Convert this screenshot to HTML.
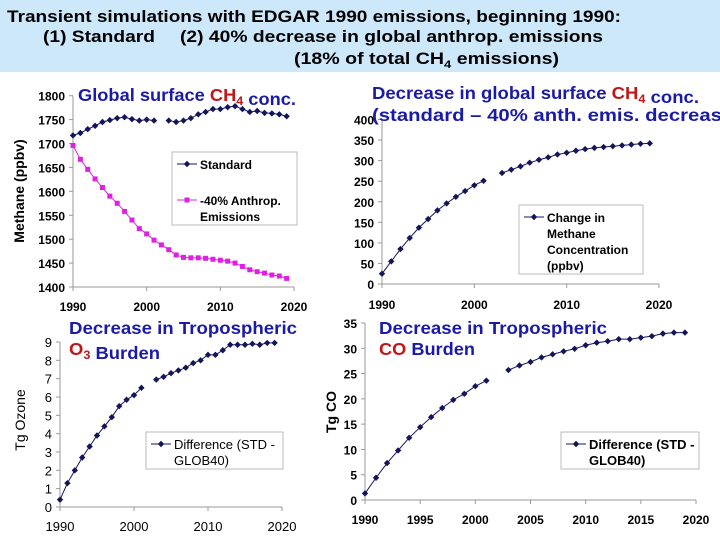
<!DOCTYPE html>
<html><head><meta charset="utf-8"><style>
html,body{margin:0;padding:0;background:#fff;width:720px;height:540px;overflow:hidden}
#hdr{position:absolute;left:0;top:0;width:720px;height:72px;background:#cde8fb}
</style></head><body>
<div id="hdr"></div>
<svg id="svg" width="720" height="540" style="position:absolute;left:0;top:0" font-family="Liberation Sans, sans-serif">
<g font-weight="bold" font-size="16.5" fill="#000">
<text x="7" y="22" textLength="614" lengthAdjust="spacingAndGlyphs">Transient simulations with EDGAR 1990 emissions, beginning 1990:</text>
<text x="43" y="42" textLength="112" lengthAdjust="spacingAndGlyphs">(1) Standard</text>
<text x="180" y="42" textLength="423" lengthAdjust="spacingAndGlyphs">(2) 40% decrease in global anthrop. emissions</text>
<text x="294" y="64" textLength="265" lengthAdjust="spacingAndGlyphs">(18% of total CH<tspan font-size="11" dy="4">4</tspan><tspan dy="-4"> emissions)</tspan></text>
</g>
</svg>
<script>
const years = [];for(let y=1990;y<=2019;y++)years.push(y);
const ch4Standard=[1717,1722,1730,1737,1745,1749,1753,1755,1751,1748,1750,1748,null,1748,1745,1748,1753,1761,1766,1772,1772,1776,1778,1772,1766,1768,1764,1763,1761,1757];
const ch4Minus40=[1696,1667,1646,1626,1608,1590,1575,1558,1540,1522,1511,1498,1488,1478,1467,1462,1461,1461,1460,1458,1456,1454,1450,1443,1436,1432,1429,1425,1423,1418];
const ch4Change=[25,55,85,112,137,158,179,196,212,226,240,251,null,270,278,286,295,302,308,315,319,324,328,331,333,335,337,339,341,342];
const o3Diff=[0.4,1.3,2.0,2.7,3.3,3.9,4.4,4.9,5.5,5.85,6.1,6.5,null,6.95,7.1,7.3,7.45,7.6,7.85,8.0,8.3,8.3,8.55,8.85,8.85,8.85,8.9,8.85,8.95,8.95];
const coDiff=[1.3,4.4,7.3,9.8,12.3,14.4,16.4,18.2,19.8,21.0,22.5,23.6,null,25.7,26.6,27.3,28.2,28.8,29.4,29.9,30.6,31.1,31.4,31.8,31.8,32.1,32.4,32.9,33.1,33.1];
const ticksCh4=[1400,1450,1500,1550,1600,1650,1700,1750,1800];
const ticksChange=[0,50,100,150,200,250,300,350,400];
const ticksO3=[0,1,2,3,4,5,6,7,8,9];
const ticksCo=[0,5,10,15,20,25,30,35];
const xTicksA=[1990,2000,2010,2020];
const xTicksB=[1990,1995,2000,2005,2010,2015,2020];

const svg=document.getElementById('svg');const NS='http://www.w3.org/2000/svg';
function mk(tag,attrs,parent){const e=document.createElementNS(NS,tag);for(const k in attrs)e.setAttribute(k,attrs[k]);(parent||svg).appendChild(e);return e;}
function chart(o){
  const g=mk('g',{});
  
  
  const sx=v=>o.x0+(v-1990)/30*(o.x1-o.x0);
  const sy=v=>o.y0-(v-o.ymin)/(o.ymax-o.ymin)*(o.y0-o.y1);
  const fw=o.bold?'bold':'normal';
  const ax=mk('g',{stroke:'#999','stroke-width':1},g);
  
  
  mk('line',{x1:o.x0,y1:o.y0,x2:o.x0,y2:o.y1},ax);
  mk('line',{x1:o.x0,y1:o.y0,x2:o.x1,y2:o.y0},ax);
  o.yt.forEach(v=>{mk('line',{x1:o.x0-4,x2:o.x0,y1:sy(v),y2:sy(v)},ax);
    const t=mk('text',{x:o.x0-8,y:sy(v)+5,'text-anchor':'end','font-size':o.fs,'font-weight':fw,fill:'#000'},g);t.textContent=v;
    
    });
  o.xt.forEach(v=>{mk('line',{x1:sx(v),x2:sx(v),y1:o.y0,y2:o.y0+4},ax);
    const t=mk('text',{x:sx(v),y:o.y0+o.xly,'text-anchor':'middle','font-size':o.fs,'font-weight':fw,fill:'#000'},g);t.textContent=v;
    
    });
  if(o.ylab){const t=mk('text',{transform:`translate(${o.ylx},${o.yly}) rotate(-90)`,'text-anchor':'middle','font-size':14,'font-weight':fw,fill:'#000'},g);t.textContent=o.ylab;
    
    }
  o.series.forEach(s=>{
    const sg=mk('g',{},g);
    
    
    let segs=[],cur=[];
    s.data.forEach((v,i)=>{if(v==null){if(cur.length)segs.push(cur);cur=[];}else cur.push([sx(years[i]),sy(v)]);});
    if(cur.length)segs.push(cur);
    segs.forEach(sgm=>mk('polyline',{points:sgm.map(p=>p.join(',')).join(' '),fill:'none',stroke:s.color,'stroke-width':1},sg));
    s.data.forEach((v,i)=>{if(v==null)return;const x=sx(years[i]),y=sy(v);
      let m;if(s.square)m=mk('rect',{x:x-2.5,y:y-2.5,width:5,height:5,fill:s.color},sg);
      else m=mk('path',{d:`M${x},${y-3.2}L${x+3.2},${y}L${x},${y+3.2}L${x-3.2},${y}Z`,fill:s.color},sg);
      
      });
  });
  const L=o.legend;const lg=mk('g',{},g);
  
  
  mk('rect',{x:L.x,y:L.y,width:L.w,height:L.h,fill:'#fff',stroke:'#bbb'},lg);
  L.items.forEach(it=>{const s=it.s;const yy=it.y;
    mk('line',{x1:L.x+5,x2:L.x+25,y1:yy,y2:yy,stroke:s.color},lg);
    const x=L.x+15;
    if(s.square)mk('rect',{x:x-2.5,y:yy-2.5,width:5,height:5,fill:s.color},lg);
    else mk('path',{d:`M${x},${yy-3.2}L${x+3.2},${yy}L${x},${yy+3.2}L${x-3.2},${yy}Z`,fill:s.color},lg);
    it.lines.forEach((ln,k)=>{const t=mk('text',{x:L.x+28,y:yy+5+k*16,'font-size':o.lfs,'font-weight':fw,fill:'#000'},lg);t.textContent=ln;
      
      });
  });
  const tg=mk('g',{'font-size':17.5,'font-weight':'bold',fill:'#1a1aa8'},g);
  
  
  o.title.forEach(line=>{const t=mk('text',{x:line.x,y:line.y,textLength:line.w,lengthAdjust:'spacingAndGlyphs'},tg);t.innerHTML=line.h;});
  return g;
}
const R='<tspan fill="#c01818">',E='</tspan>',SUB=n=>`<tspan font-size="12" dy="4">${n}</tspan><tspan dy="-4"></tspan>`;
const sStd={name:'series-standard',data:ch4Standard,color:'#14145a'};
const sM40={name:'series-minus40',data:ch4Minus40,color:'#e020e0',square:true};
chart({name:'chart-ch4-conc',x0:73,x1:294,y0:287,y1:95.7,ymin:1400,ymax:1800,yt:ticksCh4,xt:xTicksA,fs:12,bold:true,xly:24,
  ylab:'Methane (ppbv)',ylx:24,yly:191,series:[sStd,sM40],lfs:12,
  legend:{x:172,y:152,w:125,h:73,items:[{s:sStd,y:164,lines:['Standard']},{s:sM40,y:200,lines:['-40% Anthrop.','Emissions']}]},
  title:[{x:78,y:101,w:218,h:`Global surface ${R}CH${SUB(4)}${E} conc.`}]});
const sChg={name:'series-change',data:ch4Change,color:'#14145a'};
chart({name:'chart-ch4-decrease',x0:382,x1:659,y0:284,y1:119.5,ymin:0,ymax:400,yt:ticksChange,xt:xTicksA,fs:12,bold:true,xly:25,
  series:[sChg],lfs:12,
  legend:{x:519,y:205,w:124,h:69,items:[{s:sChg,y:217,lines:['Change in','Methane','Concentration','(ppbv)']}]},
  title:[{x:372,y:99,w:327,h:`Decrease in global surface ${R}CH${SUB(4)}${E} conc.`},{x:372,y:121,w:368,h:'(standard – 40% anth. emis. decrease)'}]});
const sO3={name:'series-o3',data:o3Diff,color:'#14145a'};
chart({name:'chart-o3',x0:60,x1:282,y0:507,y1:342,ymin:0,ymax:9,yt:ticksO3,xt:xTicksA,fs:13,bold:false,xly:24,
  ylab:'Tg Ozone',ylx:25,yly:420,series:[sO3],lfs:13,
  legend:{x:146,y:432,w:137,h:37,items:[{s:sO3,y:444,lines:['Difference (STD -','GLOB40)']}]},
  title:[{x:69,y:334,w:228,h:'Decrease in Tropospheric'},{x:69,y:355,w:91,h:`${R}O${SUB(3)}${E} Burden`}]});
const sCo={name:'series-co',data:coDiff,color:'#14145a'};
chart({name:'chart-co',x0:365,x1:696,y0:500,y1:323,ymin:0,ymax:35,yt:ticksCo,xt:xTicksB,fs:12,bold:true,xly:24,
  ylab:'Tg CO',ylx:336,yly:412,series:[sCo],lfs:13,
  legend:{x:561,y:432,w:138,h:37,items:[{s:sCo,y:444,lines:['Difference (STD -','GLOB40)']}]},
  title:[{x:379,y:334,w:228,h:'Decrease in Tropospheric'},{x:379,y:355,w:96,h:`${R}CO${E} Burden`}]});
</script>
</body></html>
